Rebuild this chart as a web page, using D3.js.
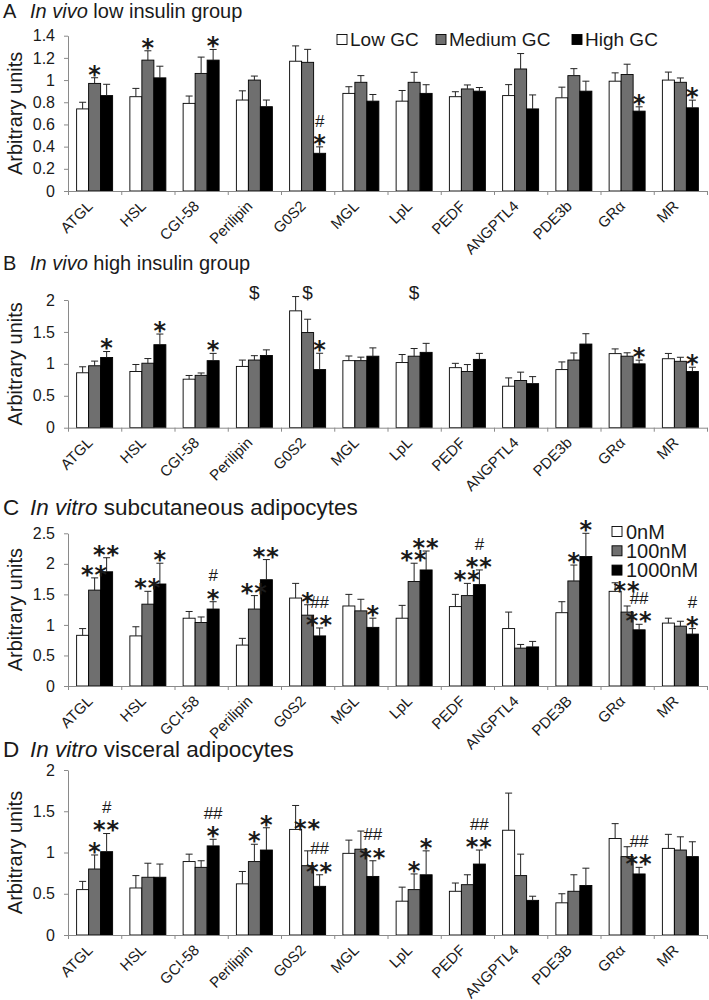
<!DOCTYPE html>
<html>
<head>
<meta charset="utf-8">
<script src="https://cdn.jsdelivr.net/npm/d3@7"></script>
<style>
body { margin: 0; background: #fff; }
text { font-family: "Liberation Sans", Arial, sans-serif; fill: #1a1a1a; }
</style>
</head>
<body>
<svg width="709" height="1000"></svg>
<script>
// categories (panels A/B spell two of them differently from C/D)
const catsVivo = ["ATGL", "HSL", "CGI-58", "Perilipin", "G0S2", "MGL", "LpL", "PEDF", "ANGPTL4", "PDE3b", "GRα", "MR"];
const catsVitro = ["ATGL", "HSL", "GCI-58", "Perilipin", "G0S2", "MGL", "LpL", "PEDF", "ANGPTL4", "PDE3B", "GRα", "MR"];

const legendVivo = ["Low GC", "Medium GC", "High GC"];
const legendVitro = ["0nM", "100nM", "1000nM"];

// A: in vivo low insulin
const lowA  = [0.74, 0.85, 0.79, 0.82, 1.17, 0.88, 0.81, 0.85, 0.86, 0.84, 0.99, 1.00];
const medA  = [0.97, 1.18, 1.06, 1.00, 1.16, 0.98, 0.98, 0.92, 1.10, 1.04, 1.05, 0.98];
const highA = [0.86, 1.02, 1.18, 0.76, 0.34, 0.81, 0.88, 0.90, 0.74, 0.90, 0.72, 0.75];
const lowAErr  = [0.06, 0.075, 0.066, 0.083, 0.138, 0.06, 0.096, 0.045, 0.099, 0.096, 0.075, 0.072];
const medAErr  = [0.051, 0.084, 0.147, 0.036, 0.117, 0.06, 0.09, 0.036, 0.139, 0.063, 0.093, 0.039];
const highAErr = [0.102, 0.105, 0.096, 0.06, 0.058, 0.06, 0.078, 0.033, 0.126, 0.09, 0.039, 0.069];

// B: in vivo high insulin
const lowB  = [0.86, 0.88, 0.76, 0.96, 1.83, 1.05, 1.02, 0.94, 0.65, 0.91, 1.16, 1.08];
const medB  = [0.97, 1.01, 0.82, 1.06, 1.49, 1.05, 1.12, 0.88, 0.74, 1.06, 1.12, 1.04];
const highB = [1.10, 1.30, 1.05, 1.13, 0.91, 1.12, 1.18, 1.07, 0.69, 1.31, 1.00, 0.88];
const lowBErr  = [0.094, 0.11, 0.058, 0.099, 0.224, 0.073, 0.126, 0.068, 0.13, 0.12, 0.074, 0.083];
const medBErr  = [0.073, 0.073, 0.037, 0.068, 0.209, 0.055, 0.12, 0.109, 0.13, 0.11, 0.053, 0.063];
const highBErr = [0.093, 0.167, 0.114, 0.089, 0.256, 0.13, 0.141, 0.094, 0.11, 0.162, 0.058, 0.067];

// C: in vitro subcutaneous
const lowC  = [0.83, 0.82, 1.11, 0.67, 1.44, 1.31, 1.11, 1.30, 0.94, 1.20, 1.55, 1.03];
const medC  = [1.57, 1.34, 1.04, 1.26, 1.16, 1.23, 1.71, 1.48, 0.62, 1.72, 1.21, 0.98];
const highC = [1.87, 1.67, 1.26, 1.74, 0.82, 0.96, 1.90, 1.66, 0.64, 2.12, 0.92, 0.85];
const lowCErr  = [0.11, 0.15, 0.11, 0.11, 0.24, 0.19, 0.21, 0.20, 0.27, 0.18, 0.14, 0.08];
const medCErr  = [0.20, 0.21, 0.09, 0.22, 0.17, 0.19, 0.30, 0.20, 0.06, 0.26, 0.10, 0.08];
const highCErr = [0.23, 0.34, 0.12, 0.33, 0.13, 0.15, 0.31, 0.24, 0.09, 0.38, 0.09, 0.09];

// D: in vitro visceral
const lowD  = [0.55, 0.57, 0.89, 0.62, 1.28, 0.99, 0.41, 0.53, 1.27, 0.39, 1.17, 1.05];
const medD  = [0.80, 0.70, 0.82, 0.89, 0.84, 1.04, 0.55, 0.61, 0.72, 0.53, 0.95, 1.03];
const highD = [1.01, 0.70, 1.08, 1.03, 0.59, 0.71, 0.73, 0.86, 0.42, 0.60, 0.74, 0.95];
const lowDErr  = [0.10, 0.15, 0.09, 0.15, 0.29, 0.16, 0.17, 0.10, 0.45, 0.11, 0.18, 0.17];
const medDErr  = [0.17, 0.17, 0.08, 0.21, 0.18, 0.22, 0.19, 0.12, 0.26, 0.20, 0.12, 0.16];
const highDErr = [0.22, 0.16, 0.08, 0.27, 0.14, 0.19, 0.29, 0.17, 0.05, 0.21, 0.08, 0.18];

// significance marks: [category, series, text (lines top|bottom), optional base value]
const annA = [[0,1,"*"],[1,1,"*"],[2,2,"*"],[4,2,"#|*"],[10,2,"*"],[11,2,"*"]];
const annB = [[0,2,"*"],[1,2,"*"],[2,2,"*"],[4,2,"*"],[10,2,"*"],[11,2,"*"]];
const dollarB = [3, 4, 6];
const annC = [[0,1,"**"],[0,2,"**"],[1,1,"**"],[1,2,"*"],[2,2,"#|*"],[3,1,"**"],[3,2,"**"],
  [4,1,"*"],[4,2,"##|**"],[5,2,"*"],[6,1,"**"],[6,2,"**"],[7,1,"**"],[7,2,"#|**"],
  [9,1,"*"],[9,2,"*"],[10,1,"**",1.5],[10,2,"##|**"],[11,2,"#|*"]];
const annD = [[0,1,"*"],[0,2,"#|**"],[2,2,"##|*"],[3,1,"*"],[3,2,"*"],[4,1,"**",1.25],
  [4,2,"##|**"],[5,2,"##|**"],[6,1,"*"],[6,2,"*"],[7,2,"##|**"],[10,2,"##|**"]];

const svg = d3.select("svg");
const left = 68, right = 707;
const fills = ["#ffffff", "#6f6f6f", "#000000"];
const astSize = 24;

const panels = [
  {letter: "A", it: "In vivo", rest: " low insulin group", titleY: 18, titleSize: 20, zero: 191, top: 35.7, max: 1.4, step: 0.2,
   cats: catsVivo, means: [lowA, medA, highA], errs: [lowAErr, medAErr, highAErr], ann: annA, legend: "row"},
  {letter: "B", it: "In vivo", rest: " high insulin group", titleY: 270, titleSize: 20, zero: 427.7, top: 300, max: 2, step: 0.5,
   cats: catsVivo, means: [lowB, medB, highB], errs: [lowBErr, medBErr, highBErr], ann: annB, dollar: dollarB},
  {letter: "C", it: "In vitro", rest: " subcutaneous adipocytes", titleY: 515, titleSize: 22.5, zero: 686, top: 533.3, max: 2.5, step: 0.5,
   cats: catsVitro, means: [lowC, medC, highC], errs: [lowCErr, medCErr, highCErr], ann: annC, legend: "col"},
  {letter: "D", it: "In vitro", rest: " visceral adipocytes", titleY: 757, titleSize: 22.5, zero: 935, top: 770, max: 2, step: 0.5,
   cats: catsVitro, means: [lowD, medD, highD], errs: [lowDErr, medDErr, highDErr], ann: annD}
];

panels.forEach(function(p) {
  const g = svg.append("g");

  const x = d3.scaleBand().domain(d3.range(p.cats.length)).range([left, right]);
  const bw = x.bandwidth();
  const xs = d3.scaleBand().domain([0, 1, 2]).range([bw / 2 - 18, bw / 2 + 18]);
  const y = d3.scaleLinear().domain([0, p.max]).range([p.zero, p.top]);
  const ticks = d3.range(0, p.max + 1e-9, p.step);

  // title
  const t = g.append("text").attr("x", 3).attr("y", p.titleY).style("font-size", p.titleSize + "px");
  t.append("tspan").text(p.letter);
  t.append("tspan").attr("x", 30).style("font-style", "italic").text(p.it);
  t.append("tspan").text(p.rest);

  // y axis
  const ya = g.append("g").attr("transform", `translate(${left},0)`)
    .call(d3.axisLeft(y).tickValues(ticks).tickSize(4).tickSizeOuter(0).tickPadding(9)
      .tickFormat(d => String(+d.toFixed(1))));
  ya.select(".domain").attr("stroke", "#8a8a8a");
  ya.selectAll(".tick line").attr("stroke", "#8a8a8a");
  ya.selectAll(".tick text").style("font-size", "16px").style("font-family", "'Liberation Sans', Arial, sans-serif").attr("fill", "#1a1a1a");

  g.append("text")
    .attr("transform", `translate(22,${(p.zero + p.top) / 2}) rotate(-90)`)
    .attr("text-anchor", "middle")
    .style("font-size", "20px")
    .text("Arbitrary units");

  // bars
  const series = [0, 1, 2];
  series.forEach(function(s) {
    g.append("g").selectAll("rect")
      .data(p.means[s])
      .join("rect")
      .attr("x", (d, i) => x(i) + xs(s))
      .attr("y", d => y(d))
      .attr("width", xs.bandwidth())
      .attr("height", d => y(0) - y(d))
      .attr("fill", fills[s])
      .attr("stroke", "#000")
      .attr("stroke-width", 0.9);

    const eg = g.append("g").attr("stroke", "#222").attr("stroke-width", 1);
    p.means[s].forEach(function(d, i) {
      const cx = x(i) + xs(s) + xs.bandwidth() / 2;
      const e = p.errs[s][i];
      eg.append("line").attr("x1", cx).attr("x2", cx).attr("y1", y(d)).attr("y2", y(d + e));
      eg.append("line").attr("x1", cx - 3.5).attr("x2", cx + 3.5).attr("y1", y(d + e)).attr("y2", y(d + e));
    });
  });

  // x axis with boundary ticks
  const xb = d3.scaleLinear().domain([0, p.cats.length]).range([left, right]);
  const xa = g.append("g").attr("transform", `translate(0,${p.zero})`)
    .call(d3.axisBottom(xb).tickValues(d3.range(p.cats.length + 1)).tickSize(4).tickSizeOuter(0).tickFormat(""));
  xa.select(".domain").attr("stroke", "#8a8a8a");
  xa.selectAll(".tick line").attr("stroke", "#8a8a8a");

  g.append("g").selectAll("text")
    .data(p.cats)
    .join("text")
    .attr("transform", (d, i) => `translate(${x(i) + bw / 2 - 1},${p.zero + 16}) rotate(-45)`)
    .attr("text-anchor", "end")
    .style("font-size", "15px")
    .text(d => d);

  // significance marks
  const ag = g.append("g");
  p.ann.forEach(function(a) {
    const ci = a[0], s = a[1];
    const cx = x(ci) + xs(s) + xs.bandwidth() / 2;
    const topVal = a[3] !== undefined ? a[3] : p.means[s][ci] + p.errs[s][ci];
    let yb = y(topVal) - 4;
    a[2].split("|").reverse().forEach(function(line) {
      if (line.indexOf("*") >= 0) {
        const base = yb + 0.373 * astSize;
        ag.append("text").attr("x", cx).attr("y", base).attr("text-anchor", "middle")
          .style("font-family", "'DejaVu Sans', sans-serif").style("font-weight", "bold")
          .style("font-size", astSize + "px").style("letter-spacing", line.length > 1 ? "1px" : "0px")
          .text(line);
        yb = base - 0.76 * astSize - 7;
      } else {
        ag.append("text").attr("x", cx).attr("y", yb).attr("text-anchor", "middle")
          .style("font-size", "17px").text(line);
        yb = yb - 12 - 4;
      }
    });
  });

  if (p.dollar) {
    ag.selectAll(".dollar")
      .data(p.dollar)
      .join("text")
      .attr("x", d => x(d) + bw / 2)
      .attr("y", y(p.max) - 1)
      .attr("text-anchor", "middle")
      .style("font-size", "19px")
      .text("$");
  }

  // legends
  if (p.legend === "row") {
    const lx = [337, 436, 572];
    legendVivo.forEach(function(name, i) {
      g.append("rect").attr("x", lx[i]).attr("y", 34.5).attr("width", 10).attr("height", 10)
        .attr("fill", fills[i]).attr("stroke", "#000").attr("stroke-width", 0.9);
      g.append("text").attr("x", lx[i] + 13).attr("y", 45.5).style("font-size", "19px").text(name);
    });
  } else if (p.legend === "col") {
    legendVitro.forEach(function(name, i) {
      const cy = 531.5 + i * 19.3;
      g.append("rect").attr("x", 612).attr("y", cy - 5).attr("width", 10).attr("height", 10)
        .attr("fill", fills[i]).attr("stroke", "#000").attr("stroke-width", 0.9);
      g.append("text").attr("x", 626).attr("y", cy + 7).style("font-size", "20px").text(name);
    });
  }
});
</script>
</body>
</html>
